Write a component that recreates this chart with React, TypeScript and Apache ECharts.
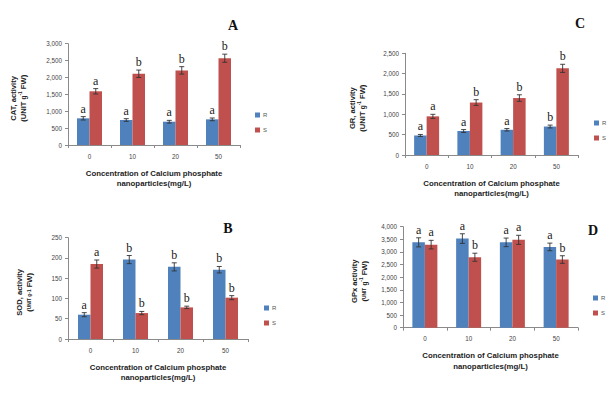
import React, { useEffect, useRef } from "react";
import * as echarts from "echarts";

const categories = ["0", "10", "20", "50"];
const seriesNames = ["R", "S"];

const catR = [790, 740, 690, 760];
const catS = [1590, 2110, 2210, 2570];
const catErrR = [50, 40, 40, 40];
const catErrS = [80, 110, 110, 120];
const catLetR = ["a", "a", "a", "a"];
const catLetS = ["a", "b", "b", "b"];

const grR = [480, 590, 620, 700];
const grS = [950, 1290, 1400, 2130];
const grErrR = [25, 35, 30, 35];
const grErrS = [50, 70, 80, 100];
const grLetR = ["a", "a", "a", "b"];
const grLetS = ["a", "b", "b", "b"];

const sodR = [60, 196, 178, 171];
const sodS = [185, 64, 78, 102];
const sodErrR = [5, 10, 10, 8];
const sodErrS = [10, 4, 3, 5];
const sodLetR = ["a", "b", "b", "b"];
const sodLetS = ["a", "b", "b", "b"];

const gpxR = [3380, 3530, 3380, 3200];
const gpxS = [3290, 2790, 3480, 2700];
const gpxErrR = [180, 190, 170, 150];
const gpxErrS = [170, 160, 180, 150];
const gpxLetR = ["a", "a", "a", "a"];
const gpxLetS = ["a", "b", "a", "b"];

const yMaxA = 3000, yStepA = 500;
const yMaxC = 2500, yStepC = 500;
const yMaxB = 250, yStepB = 50;
const yMaxD = 4000, yStepD = 500;

const xTitle = "Concentration of Calcium phosphate\nnanoparticles(mg/L)";

const COLORS = { R: "#4F81BD", S: "#C0504D" };
const BAR_W = 12.5;

type Panel = {
  id: string;
  grid: { left: number; top: number; width: number; height: number };
  yMax: number;
  yStep: number;
  R: number[]; S: number[];
  errR: number[]; errS: number[];
  letR: string[]; letS: string[];
  title: { x: number; y: number };
  legend: { left: number; top: number };
  yTitle1: string;
  yTitle2: string;
  yTitleX: number;
};

const panels: Panel[] = [
  {
    id: "A",
    grid: { left: 68, top: 43.7, width: 172, height: 101.3 },
    yMax: yMaxA, yStep: yStepA,
    R: catR, S: catS, errR: catErrR, errS: catErrS, letR: catLetR, letS: catLetS,
    title: { x: 233, y: 25 },
    legend: { left: 250, top: 107 },
    yTitle1: "{b|CAT, activity}",
    yTitle2: "{b|(UNIT }{g|g}{sup|-1}{b| FW)}",
    yTitleX: 18,
  },
  {
    id: "C",
    grid: { left: 405, top: 53.3, width: 173, height: 101.7 },
    yMax: yMaxC, yStep: yStepC,
    R: grR, S: grS, errR: grErrR, errS: grErrS, letR: grLetR, letS: grLetS,
    title: { x: 580, y: 23 },
    legend: { left: 589, top: 115 },
    yTitle1: "{b|GR, activity}",
    yTitle2: "{b|(UNIT }{g|g}{sup|-1}{b| FW)}",
    yTitleX: 357,
  },
  {
    id: "B",
    grid: { left: 68, top: 237.7, width: 180, height: 101.3 },
    yMax: yMaxB, yStep: yStepB,
    R: sodR, S: sodS, errR: sodErrR, errS: sodErrS, letR: sodLetR, letS: sodLetS,
    title: { x: 228, y: 228 },
    legend: { left: 259, top: 300 },
    yTitle1: "{b|SOD, activity}",
    yTitle2: "{b|(}{sm|UNIT g-1}{b| FW)}",
    yTitleX: 24,
  },
  {
    id: "D",
    grid: { left: 403, top: 226.7, width: 175, height: 101 },
    yMax: yMaxD, yStep: yStepD,
    R: gpxR, S: gpxS, errR: gpxErrR, errS: gpxErrS, letR: gpxLetR, letS: gpxLetS,
    title: { x: 593, y: 230 },
    legend: { left: 588, top: 290 },
    yTitle1: "{b|GPx activity}",
    yTitle2: "{b|(}{sm|UNIT}{b| }{g|g}{sup|-1}{b| FW)}",
    yTitleX: 359,
  },
];

const fmt = (v: number) => v.toLocaleString("en-US");

function buildOption() {
  const grids: any[] = [];
  const xAxes: any[] = [];
  const yAxes: any[] = [];
  const series: any[] = [];
  const legends: any[] = [];
  const graphics: any[] = [];

  panels.forEach((p, i) => {
    grids.push({ ...p.grid, containLabel: false });
    xAxes.push({
      type: "category",
      gridIndex: i,
      data: categories,
      axisLine: { lineStyle: { color: "#8a8a8a", width: 1 } },
      axisTick: { show: true, length: 3, lineStyle: { color: "#8a8a8a" } },
      axisLabel: { fontSize: 6.3, color: "#444", margin: 8, fontFamily: "Liberation Sans" },
      name: xTitle,
      nameLocation: "middle",
      nameGap: 23,
      nameTextStyle: {
        fontSize: 7.8,
        fontWeight: "bold",
        color: "#222",
        lineHeight: 10.5,
        fontFamily: "Liberation Sans",
      },
    });
    yAxes.push({
      type: "value",
      gridIndex: i,
      min: 0,
      max: p.yMax,
      interval: p.yStep,
      axisLine: { show: true, lineStyle: { color: "#8a8a8a", width: 1 } },
      axisTick: { show: true, length: 3, lineStyle: { color: "#8a8a8a" } },
      splitLine: { show: false },
      axisLabel: {
        fontSize: 6.3,
        color: "#444",
        margin: 6,
        fontFamily: "Liberation Sans",
        formatter: (v: number) => fmt(v),
      },
    });
    const groups = [
      { name: "R", vals: p.R, errs: p.errR, lets: p.letR, off: -BAR_W / 2 },
      { name: "S", vals: p.S, errs: p.errS, lets: p.letS, off: BAR_W / 2 },
    ];
    groups.forEach((g) => {
      series.push({
        type: "bar",
        name: g.name,
        xAxisIndex: i,
        yAxisIndex: i,
        data: g.vals,
        barWidth: BAR_W,
        barGap: "0%",
        itemStyle: { color: (COLORS as any)[g.name] },
      });
    });
    groups.forEach((g) => {
      series.push({
        type: "custom",
        name: "err-" + p.id + "-" + g.name,
        xAxisIndex: i,
        yAxisIndex: i,
        z: 5,
        data: g.vals.map((v, k) => [k, v, g.errs[k]]),
        renderItem: (params: any, api: any) => {
          const k = api.value(0);
          const v = api.value(1);
          const e = api.value(2);
          const top = api.coord([k, v + e]);
          const bot = api.coord([k, v - e]);
          const x = top[0] + g.off;
          const cap = 2.5;
          const st = { stroke: "#333", lineWidth: 0.9 };
          return {
            type: "group",
            children: [
              { type: "line", shape: { x1: x, y1: top[1], x2: x, y2: bot[1] }, style: st },
              { type: "line", shape: { x1: x - cap, y1: top[1], x2: x + cap, y2: top[1] }, style: st },
              { type: "line", shape: { x1: x - cap, y1: bot[1], x2: x + cap, y2: bot[1] }, style: st },
              {
                type: "text",
                style: {
                  text: g.lets[params.dataIndex],
                  x: x,
                  y: top[1] - 2,
                  align: "center",
                  verticalAlign: "bottom",
                  fill: "#222",
                  font: "12px 'Liberation Serif', serif",
                },
              },
            ],
          };
        },
      });
    });
    legends.push({
      data: seriesNames,
      orient: "vertical",
      left: p.legend.left,
      top: p.legend.top,
      itemWidth: 5,
      itemHeight: 5,
      itemGap: 9,
      icon: "rect",
      selectedMode: false,
      textStyle: { fontSize: 6, color: "#555", padding: [0, 0, 0, -2], fontFamily: "Liberation Sans" },
    });
    graphics.push({
      type: "text",
      x: p.title.x,
      y: p.title.y,
      style: {
        text: p.id,
        font: "bold 14px 'Liberation Serif', serif",
        fill: "#111",
        align: "center",
        verticalAlign: "middle",
      },
    });
    const cy = p.grid.top + p.grid.height / 2 + 4;
    graphics.push({
      type: "text",
      x: p.yTitleX,
      y: cy,
      rotation: Math.PI / 2,
      style: {
        text: p.yTitle1 + "\n" + p.yTitle2,
        align: "center",
        verticalAlign: "middle",
        fill: "#222",
        rich: {
          b: { fontSize: 7.6, fontWeight: "bold", fontFamily: "Liberation Sans", fill: "#222", lineHeight: 10 },
          g: { fontSize: 6.5, fontWeight: "bold", fontFamily: "Liberation Sans", fill: "#222", lineHeight: 10 },
          sup: { fontSize: 4.8, fontWeight: "bold", fontFamily: "Liberation Sans", fill: "#222", verticalAlign: "top", lineHeight: 10 },
          sm: { fontSize: 4.8, fontWeight: "bold", fontFamily: "Liberation Sans", fill: "#222", lineHeight: 10 },
        },
      },
    });
  });

  return {
    animation: false,
    backgroundColor: "#fff",
    grid: grids,
    xAxis: xAxes,
    yAxis: yAxes,
    series,
    legend: legends,
    graphic: graphics,
  };
}

export default function App() {
  const ref = useRef<HTMLDivElement>(null);
  useEffect(() => {
    if (!ref.current) return;
    const chart = echarts.init(ref.current, undefined, { renderer: "svg" });
    chart.setOption(buildOption() as any);
    return () => chart.dispose();
  }, []);
  return (
    <div
      ref={ref}
      style={{ position: "fixed", left: 0, top: 0, width: 613, height: 395, background: "#fff" }}
    />
  );
}
